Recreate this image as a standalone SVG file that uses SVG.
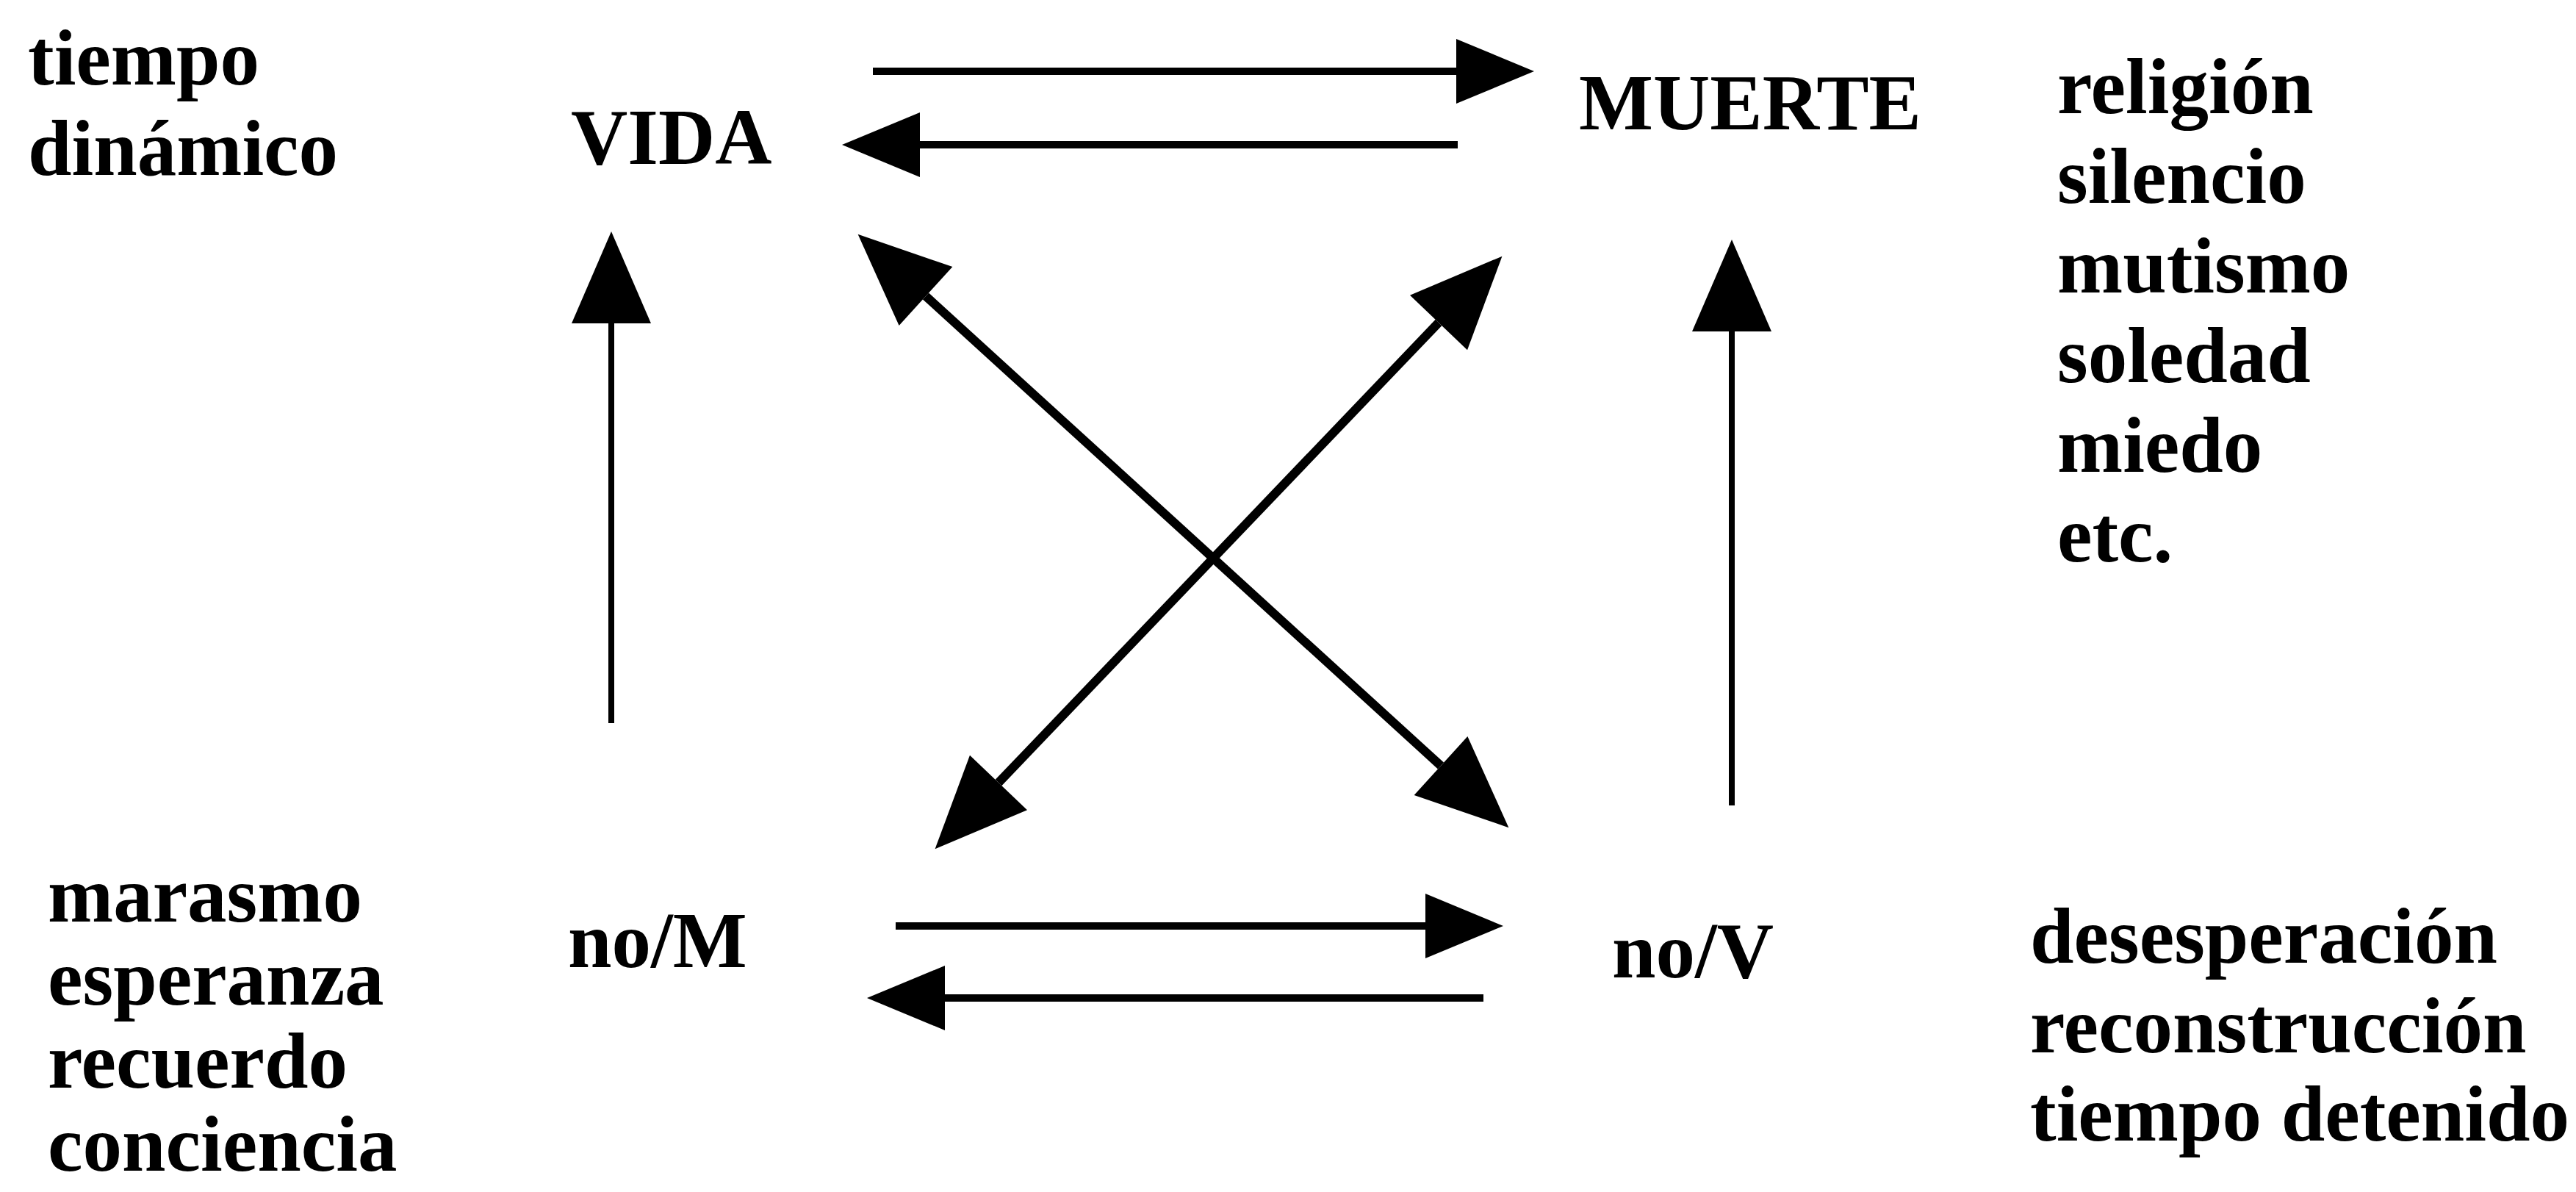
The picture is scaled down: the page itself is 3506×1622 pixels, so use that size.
<svg xmlns="http://www.w3.org/2000/svg" width="3506" height="1622" viewBox="0 0 3506 1622">
<style>
text{font-family:"Liberation Serif","Times New Roman",serif;font-size:107px;font-weight:bold;fill:#000}
.c{stroke:#000;fill:none;stroke-linecap:butt}
.h{stroke-width:10}
.v{stroke-width:8}
.d{stroke-width:12}
</style>
<defs>
<marker id="hs" markerUnits="userSpaceOnUse" viewBox="0 -45 108 90" refX="0" refY="0" markerWidth="108" markerHeight="90" orient="auto-start-reverse" overflow="visible">
<path d="M0,-44 L106,0 L0,44 Z" fill="#000"/>
</marker>
<marker id="hl" markerUnits="userSpaceOnUse" viewBox="0 -55 126 110" refX="0" refY="0" markerWidth="126" markerHeight="110" orient="auto-start-reverse" overflow="visible">
<path d="M0,-54 L125,0 L0,54 Z" fill="#000"/>
</marker>
</defs>
<rect width="3506" height="1622" fill="#fff"/>
<g id="connectors">
<path class="c h" d="M1188,97 L1982,97" marker-end="url(#hs)"/>
<path class="c h" d="M1984,197 L1252,197" marker-end="url(#hs)"/>
<path class="c h" d="M1219,1260 L1940,1260" marker-end="url(#hs)"/>
<path class="c h" d="M2019,1358 L1286,1358" marker-end="url(#hs)"/>
<path class="c v" d="M832,984 L832,440" marker-end="url(#hl)"/>
<path class="c v" d="M2357,1096 L2357,451" marker-end="url(#hl)"/>
<path class="c d" d="M1260,403 L1961,1042" marker-start="url(#hl)" marker-end="url(#hl)"/>
<path class="c d" d="M1958,439 L1359,1065" marker-start="url(#hl)" marker-end="url(#hl)"/>
</g>
<g id="node-vida"><text x="777" y="223">VIDA</text></g>
<g id="node-muerte"><text x="2149" y="176">MUERTE</text></g>
<g id="node-noM"><text x="773" y="1316">no/M</text></g>
<g id="node-noV"><text x="2194" y="1330">no/V</text></g>
<g id="label-vida"><text x="38" y="115">tiempo</text><text x="38" y="238">dinámico</text></g>
<g id="label-muerte">
<text x="2800" y="154">religión</text>
<text x="2800" y="276">silencio</text>
<text x="2800" y="398">mutismo</text>
<text x="2800" y="520">soledad</text>
<text x="2800" y="642">miedo</text>
<text x="2800" y="764">etc.</text>
</g>
<g id="label-noM">
<text x="65" y="1254">marasmo</text>
<text x="65" y="1367">esperanza</text>
<text x="65" y="1480">recuerdo</text>
<text x="65" y="1593">conciencia</text>
</g>
<g id="label-noV">
<text x="2763" y="1310">desesperación</text>
<text x="2763" y="1432">reconstrucción</text>
<text x="2763" y="1552">tiempo detenido</text>
</g>
</svg>
